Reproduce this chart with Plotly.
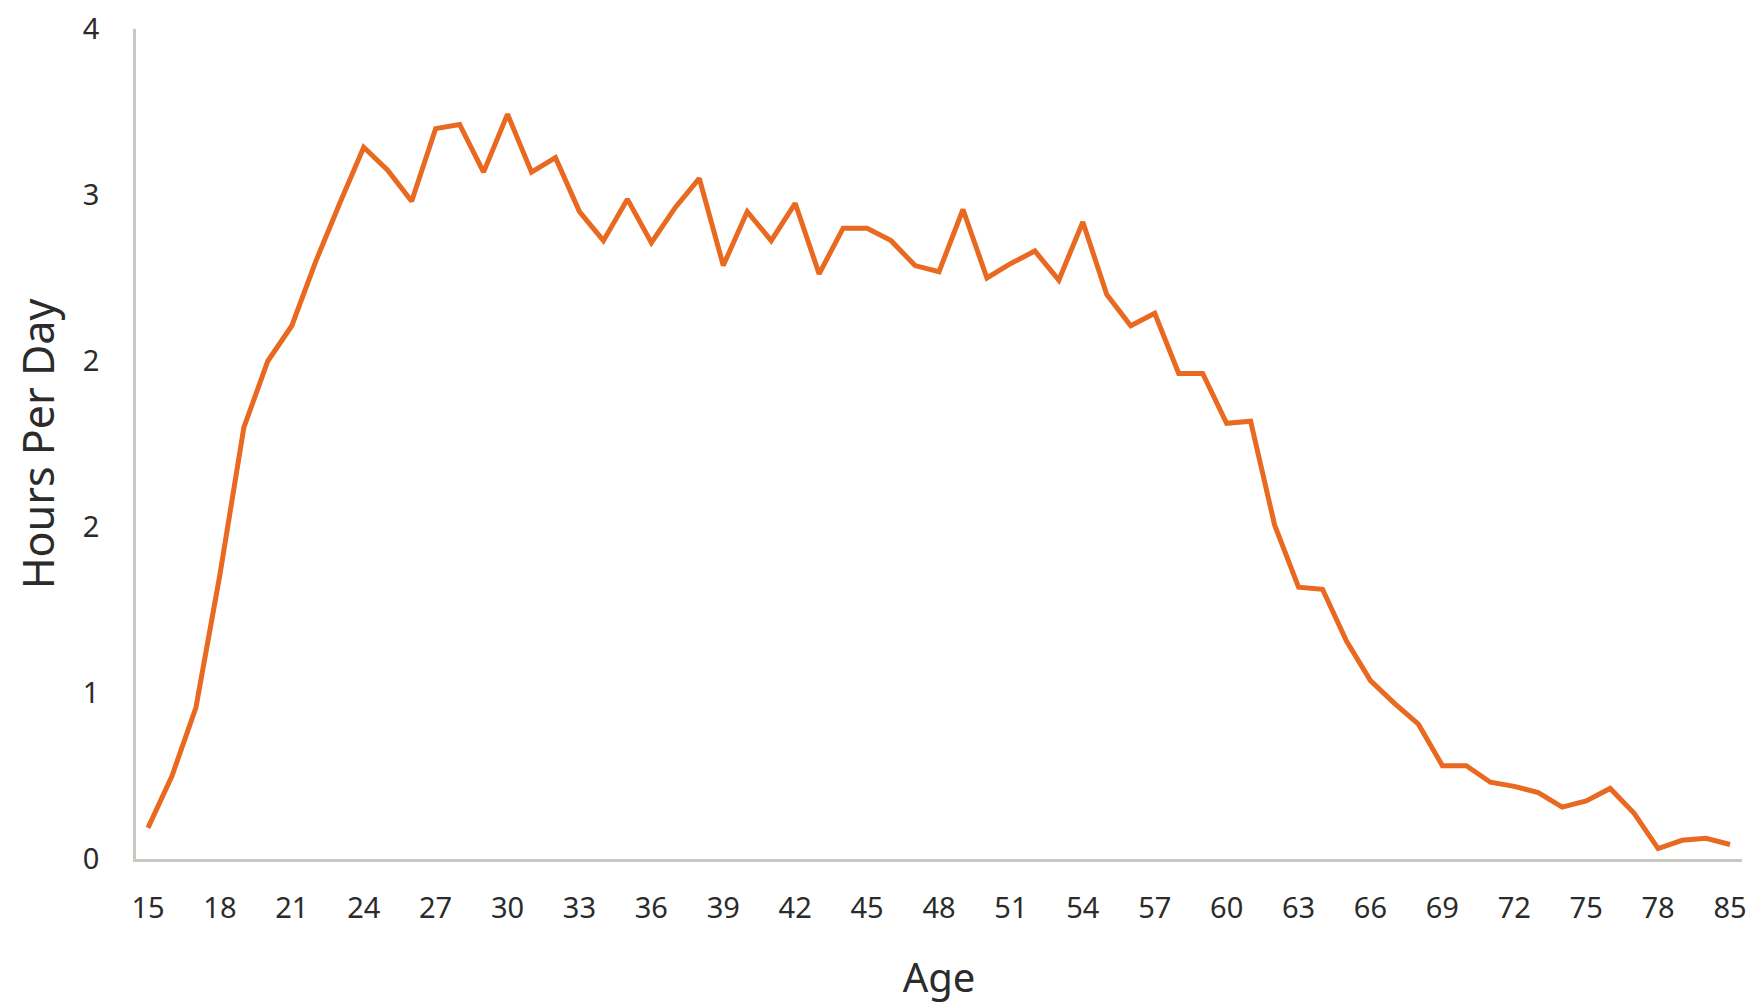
import plotly.graph_objects as go

ages = [str(a) for a in range(15, 81)] + ["85"]
hours = [0.15, 0.40, 0.73, 1.37, 2.08, 2.40, 2.57, 2.88, 3.16, 3.43,
         3.32, 3.17, 3.52, 3.54, 3.31, 3.59, 3.31, 3.38, 3.12, 2.98,
         3.18, 2.97, 3.14, 3.28, 2.86, 3.12, 2.98, 3.16, 2.82, 3.04,
         3.04, 2.98, 2.86, 2.83, 3.13, 2.80, 2.87, 2.93, 2.79, 3.07,
         2.72, 2.57, 2.63, 2.34, 2.34, 2.10, 2.11, 1.61, 1.31, 1.30,
         1.05, 0.86, 0.75, 0.65, 0.45, 0.45, 0.37, 0.35, 0.32, 0.25,
         0.28, 0.34, 0.22, 0.05, 0.09, 0.10, 0.07]
x_tick_labels = ages[::3]
y_tick_values = [0, 0.8, 1.6, 2.4, 3.2, 4.0]

FONT = "Noto Sans, Lato, sans-serif"
TEXT = "#2b2b2b"

fig = go.Figure(go.Scatter(
    x=ages, y=hours, mode="lines",
    line=dict(color="#E8691F", width=5),
))

fig.update_layout(
    width=1754, height=1003,
    margin=dict(l=128, r=20, t=21, b=152),
    paper_bgcolor="white", plot_bgcolor="white",
    showlegend=False,
    font=dict(family=FONT, color=TEXT),
)
fig.update_xaxes(
    type="category", range=[-0.5, len(ages) - 0.5],
    tickmode="array", tickvals=x_tick_labels, ticktext=x_tick_labels,
    showline=True, linecolor="#C9C9C3", linewidth=2.5,
    showgrid=False, zeroline=False,
    ticks="", ticklabelstandoff=21, ticklabeloverflow="allow",
    tickfont=dict(size=29, color=TEXT),
    title=dict(text="Age", font=dict(size=40, color=TEXT), standoff=40),
    automargin=False,
)
fig.update_yaxes(
    range=[0, 4], tickmode="array", tickvals=y_tick_values,
    tickformat=".0f",
    showline=True, linecolor="#C9C9C3", linewidth=2.5,
    showgrid=False, zeroline=False,
    ticks="", ticklabelstandoff=28, ticklabeloverflow="allow",
    tickfont=dict(size=29, color=TEXT),
    title=dict(text="Hours Per Day", font=dict(size=43, color=TEXT), standoff=46),
    automargin=False,
)

fig.write_html("out.html")
